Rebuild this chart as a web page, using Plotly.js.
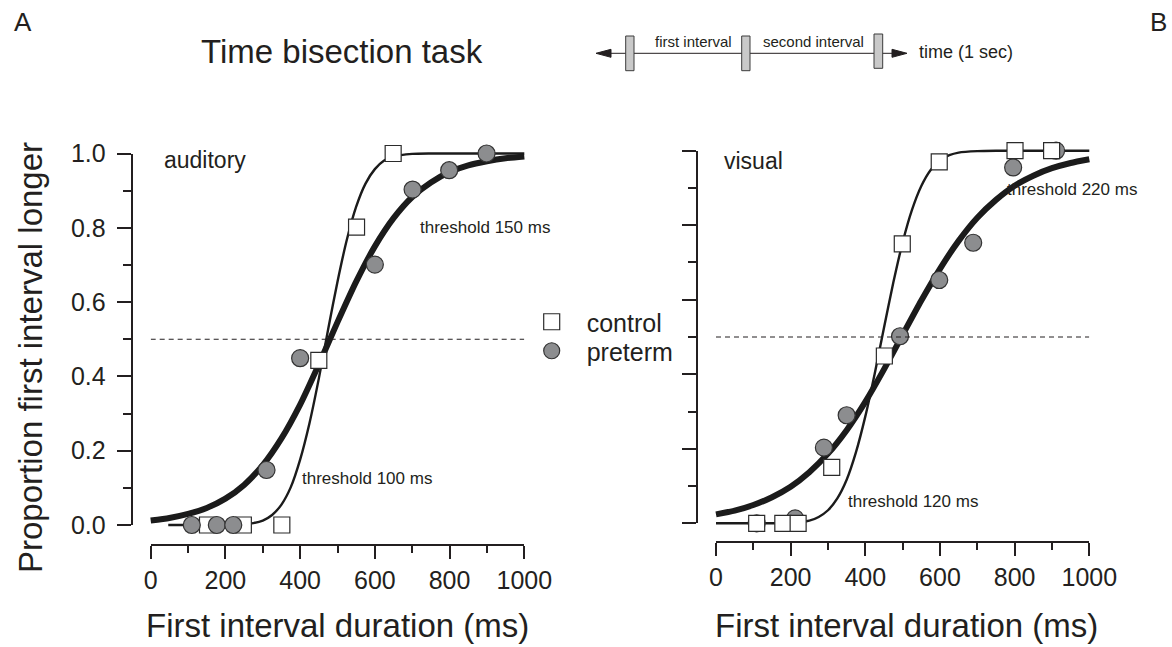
<!DOCTYPE html>
<html><head><meta charset="utf-8">
<script src="https://cdn.plot.ly/plotly-3.0.1.min.js"></script>
<style>html,body{margin:0;padding:0;background:#fff}#chart{width:1172px;height:647px}</style>
</head><body><div id="chart"></div>
<script>
// ---------- DATA ----------
// Auditory panel (A, left)
const audControlX = [152, 248, 351, 450, 551, 649];
const audControlY = [0, 0, 0, 0.443, 0.802, 1.0];
const audPretermX = [110, 177, 221, 310, 400, 600, 701, 799, 899];
const audPretermY = [0, 0, 0, 0.148, 0.449, 0.701, 0.903, 0.955, 1.0];
const audControlFitX = [47, 100, 150, 200, 250, 275, 300, 325, 350, 375, 400, 425, 450, 475, 500, 525, 550, 575, 600, 625, 650, 700, 750, 800, 900, 1000];
const audControlFitY = [0, 0, 0, 0.0002, 0.002, 0.005, 0.012, 0.027, 0.055, 0.102, 0.176, 0.274, 0.394, 0.527, 0.655, 0.768, 0.857, 0.919, 0.958, 0.981, 0.992, 0.999, 1, 1, 1, 1];
const audPretermFitX = [0, 50, 100, 150, 200, 250, 300, 350, 400, 450, 500, 550, 600, 650, 700, 750, 800, 850, 900, 950, 1000];
const audPretermFitY = [0.012, 0.019, 0.030, 0.046, 0.071, 0.108, 0.161, 0.233, 0.324, 0.432, 0.546, 0.655, 0.750, 0.826, 0.883, 0.922, 0.950, 0.968, 0.979, 0.987, 0.992];

// Visual panel (right)
const visControlX = [109, 179, 220, 310, 451, 499, 598, 801, 899];
const visControlY = [0, 0, 0, 0.150, 0.449, 0.750, 0.970, 1.0, 1.0];
const visPretermX = [109, 212, 289, 350, 493, 598, 689, 796, 911];
const visPretermY = [0, 0.013, 0.203, 0.290, 0.502, 0.653, 0.753, 0.955, 1.0];
const visControlFitX = [0, 50, 100, 150, 200, 250, 275, 300, 325, 350, 375, 400, 425, 450, 475, 500, 525, 550, 575, 600, 625, 650, 700, 750, 800, 900, 1000];
const visControlFitY = [0, 0, 0, 0.0001, 0.001, 0.007, 0.017, 0.035, 0.067, 0.117, 0.191, 0.287, 0.401, 0.525, 0.646, 0.754, 0.841, 0.905, 0.948, 0.974, 0.988, 0.995, 0.999, 1, 1, 1, 1];
const visPretermFitX = [0, 50, 100, 150, 200, 250, 300, 350, 400, 450, 500, 550, 600, 650, 700, 750, 800, 850, 900, 950, 1000];
const visPretermFitY = [0.024, 0.034, 0.049, 0.070, 0.098, 0.137, 0.187, 0.250, 0.326, 0.413, 0.506, 0.598, 0.683, 0.758, 0.820, 0.868, 0.906, 0.933, 0.953, 0.967, 0.977];

// chance level (0.5)
const chanceX = [0, 1000];
const chanceY = [0.5, 0.5];

// tick labels
const xTickVals = [0, 200, 400, 600, 800, 1000];
const xTickText = ['0', '200', '400', '600', '800', '1000'];
const yTickVals = [0, 0.2, 0.4, 0.6, 0.8, 1.0];
const yTickText = ['0.0', '0.2', '0.4', '0.6', '0.8', '1.0'];

// ---------- LAYOUT HELPERS ----------
const W = 1172, H = 647;
const fx = p => p / W, fy = p => 1 - p / H;
const INK = '#231f20';
const FONT = 'Arial, "Liberation Sans", sans-serif';
const P = {
  L: {x0: 150.7, x1: 524.3, y0: 525, y1: 153.5, axX: 131.7, axY: 545},
  R: {x0: 716, x1: 1089.3, y0: 523.3, y1: 150.7, axX: 696.7, axY: 541.7}
};
const XR = [-40, 1040], YR = [-0.06, 1.06];
function domX(p) { const k = (p.x1 - p.x0) / 1000; return [fx(p.x0 + XR[0] * k), fx(p.x0 + XR[1] * k)]; }
function domY(p) { const k = (p.y0 - p.y1); return [fy(p.y0 - YR[0] * k), fy(p.y0 - YR[1] * k)]; }

const sqMarker = {symbol: 'square', size: 16, color: '#ffffff', line: {color: '#2b2b2b', width: 1.2}};
const ciMarker = {symbol: 'circle', size: 17, color: '#8c8d8f', line: {color: '#333333', width: 1.2}};
const thin = {color: '#1b1b1b', width: 2.4, shape: 'spline', smoothing: 0.6};
const thick = {color: '#1b1b1b', width: 6, shape: 'spline', smoothing: 0.6};
const dashLine = {color: '#231f20', width: 1, dash: '5px,4px'};

const traces = [
  // left panel
  {x: chanceX, y: chanceY, xaxis: 'x3', yaxis: 'y3', mode: 'lines', line: dashLine, showlegend: false, hoverinfo: 'skip'},
  {x: audControlFitX, y: audControlFitY, xaxis: 'x', yaxis: 'y', mode: 'lines', line: thin, showlegend: false},
  {x: audPretermFitX, y: audPretermFitY, xaxis: 'x', yaxis: 'y', mode: 'lines', line: thick, showlegend: false},
  {x: audControlX, y: audControlY, xaxis: 'x', yaxis: 'y', mode: 'markers', name: 'control', marker: sqMarker, cliponaxis: false, legend: 'legend'},
  {x: audPretermX, y: audPretermY, xaxis: 'x', yaxis: 'y', mode: 'markers', name: 'preterm', marker: ciMarker, cliponaxis: false, legend: 'legend2'},
  // right panel
  {x: chanceX, y: chanceY, xaxis: 'x4', yaxis: 'y4', mode: 'lines', line: dashLine, showlegend: false, hoverinfo: 'skip'},
  {x: visControlFitX, y: visControlFitY, xaxis: 'x2', yaxis: 'y2', mode: 'lines', line: thin, showlegend: false},
  {x: visPretermFitX, y: visPretermFitY, xaxis: 'x2', yaxis: 'y2', mode: 'lines', line: thick, showlegend: false},
  {x: visPretermX, y: visPretermY, xaxis: 'x2', yaxis: 'y2', mode: 'markers', name: 'preterm', marker: ciMarker, cliponaxis: false, showlegend: false},
  {x: visControlX, y: visControlY, xaxis: 'x2', yaxis: 'y2', mode: 'markers', name: 'control', marker: sqMarker, cliponaxis: false, showlegend: false}
];

const hidden = {visible: false, fixedrange: true};
const axBase = {showline: true, linecolor: INK, linewidth: 2, ticks: 'outside', tickcolor: INK, tickwidth: 2,
  showgrid: false, zeroline: false, fixedrange: true, tickfont: {family: FONT, size: 25, color: INK}};
function xDisp(p) {
  return Object.assign({}, axBase, {domain: [fx(p.x0), fx(p.x1)], range: [0, 1000], anchor: 'free', position: fy(p.axY),
    tickmode: 'array', tickvals: xTickVals, ticktext: xTickText, ticklen: 13,
    minor: {dtick: 100, tick0: 0, ticklen: 7, tickwidth: 2, tickcolor: INK, ticks: 'outside', showgrid: false}});
}
function yDisp(p, labels) {
  return Object.assign({}, axBase, {domain: [fy(p.y0), fy(p.y1)], range: [0, 1], anchor: 'free', position: fx(p.axX),
    tickmode: 'array', tickvals: yTickVals, ticktext: yTickText, ticklen: 14, showticklabels: labels, ticklabelstandoff: 6,
    minor: {dtick: 0.1, tick0: 0, ticklen: 8, tickwidth: 2, tickcolor: INK, ticks: 'outside', showgrid: false}});
}

function ann(text, px, py, size, extra) {
  return Object.assign({text: text, x: fx(px), y: fy(py), xref: 'paper', yref: 'paper', showarrow: false,
    xanchor: 'center', yanchor: 'middle', font: {family: FONT, size: size, color: INK}}, extra || {});
}

const annotations = [
  ann('A', 23, 22, 26),
  ann('B', 1158, 22, 26),
  ann('Time bisection task', 342, 52, 33),
  ann('first interval', 693, 42, 15),
  ann('second interval', 813, 42, 15),
  ann('time (1 sec)', 917, 52, 18, {xanchor: 'left'}),
  ann('auditory', 162, 160, 23, {xanchor: 'left'}),
  ann('visual', 722, 161, 23, {xanchor: 'left'}),
  ann('threshold 150 ms', 418, 227, 17, {xanchor: 'left'}),
  ann('threshold 100 ms', 300, 478, 17, {xanchor: 'left'}),
  ann('threshold 220 ms', 1005, 189, 17, {xanchor: 'left'}),
  ann('threshold 120 ms', 846, 501, 17, {xanchor: 'left'}),
  ann('Proportion first interval longer', 30, 358, 33, {textangle: -90}),
  ann('First interval duration (ms)', 337.5, 625, 33),
  ann('First interval duration (ms)', 906, 625, 33)
];

function rect(x0, y0, x1, y1) {
  return {type: 'rect', xref: 'paper', yref: 'paper', x0: fx(x0), x1: fx(x1), y0: fy(y1), y1: fy(y0),
    fillcolor: '#c9c9c9', line: {color: '#3c3c3c', width: 1}};
}
function tri(tipX, baseX, cy, half) {
  return {type: 'path', xref: 'paper', yref: 'paper',
    path: 'M ' + fx(tipX) + ' ' + fy(cy) + ' L ' + fx(baseX) + ' ' + fy(cy - half) + ' L ' + fx(baseX) + ' ' + fy(cy + half) + ' Z',
    fillcolor: INK, line: {color: INK, width: 1}};
}
const shapes = [
  {type: 'line', xref: 'paper', yref: 'paper', x0: fx(605), x1: fx(895), y0: fy(53.3), y1: fy(53.3), line: {color: INK, width: 1}},
  tri(596, 611, 53.3, 4),
  tri(907, 892, 53.3, 4),
  rect(625.7, 36, 634, 70.7),
  rect(741.7, 36, 750, 70.7),
  rect(874, 34, 882.7, 68.3)
];

const legendBase = {xanchor: 'left', yanchor: 'top', font: {family: FONT, size: 25, color: INK},
  bgcolor: 'rgba(0,0,0,0)', borderwidth: 0, tracegroupgap: 0, itemsizing: 'trace', itemwidth: 60};

const layout = {
  width: W, height: H,
  margin: {l: 0, r: 0, t: 0, b: 0},
  paper_bgcolor: '#ffffff', plot_bgcolor: 'rgba(0,0,0,0)',
  font: {family: FONT, color: INK},
  showlegend: true,
  legend: Object.assign({x: fx(516.7), y: fy(299)}, legendBase),
  legend2: Object.assign({x: fx(516.7), y: fy(328)}, legendBase),
  xaxis: Object.assign({domain: domX(P.L), range: XR, anchor: 'y'}, hidden),
  yaxis: Object.assign({domain: domY(P.L), range: YR, anchor: 'x'}, hidden),
  xaxis2: Object.assign({domain: domX(P.R), range: XR, anchor: 'y2'}, hidden),
  yaxis2: Object.assign({domain: domY(P.R), range: YR, anchor: 'x2'}, hidden),
  xaxis3: xDisp(P.L), yaxis3: yDisp(P.L, true),
  xaxis4: xDisp(P.R), yaxis4: yDisp(P.R, false),
  annotations: annotations,
  shapes: shapes
};

Plotly.newPlot('chart', traces, layout, {staticPlot: true, displayModeBar: false});
</script>
</body></html>
